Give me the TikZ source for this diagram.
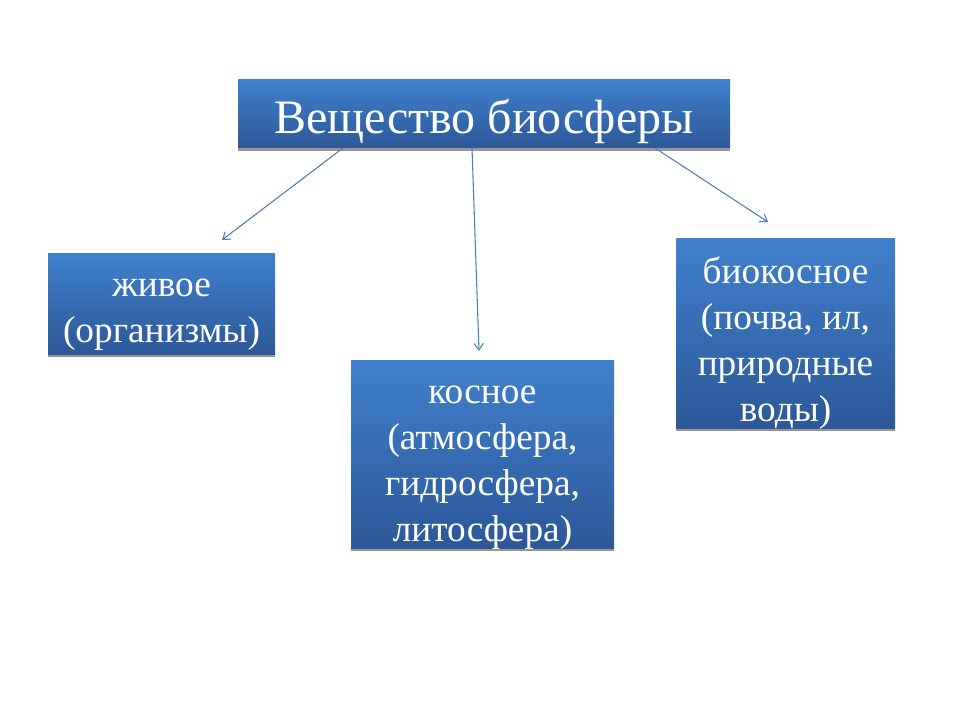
\documentclass[tikz,border=0pt]{standalone}
\usepackage{fontspec}
\setmainfont{Liberation Serif}
\usetikzlibrary{shadows,arrows.meta}
\definecolor{boxtop}{RGB}{64,128,204}
\definecolor{boxbot}{RGB}{44,88,152}
\definecolor{arrowblue}{RGB}{74,126,187}
\definecolor{shadowgray}{RGB}{150,150,150}
\begin{document}
\begin{tikzpicture}[x=0.75pt,y=-0.75pt,
  sphere/.style={rectangle, inner sep=0pt, top color=boxtop, bottom color=boxbot,
    drop shadow={shadow xshift=0pt, shadow yshift=-2.2pt, fill=shadowgray, opacity=1}},
  boxtext/.style={anchor=north, inner sep=0pt, text=white, align=center,
    font=\fontsize{28}{34.5}\selectfont},
  link/.style={draw=arrowblue, line width=0.8pt, -{Straight Barb[length=5pt,width=7pt]}}]
 	\useasboundingbox (0,0) rectangle (960,720);
 	\node [sphere, minimum width=369pt, minimum height=51pt] (matter) at (484,114) {};
 	\node [sphere, minimum width=170.25pt, minimum height=75pt] (living) at (161.5,304) {};
 	\node [sphere, minimum width=197.25pt, minimum height=141pt] (inert) at (482.5,454) {};
 	\node [sphere, minimum width=164.25pt, minimum height=141.75pt] (bioinert) at (785.5,333.5) {};
 	\node [boxtext, font=\fontsize{36}{43}\selectfont] (matter-text) at (484,92.9) {\strut Вещество биосферы};
 	\node [boxtext] (living-text) at (161.5,263.8) {\strut живое\\(организмы)};
 	\node [boxtext] (inert-text) at (482.5,370.8) {\strut косное\\(атмосфера,\\гидросфера,\\литосфера)};
 	\node [boxtext] (bioinert-text) at (785.5,250.8) {\strut биокосное\\(почва, ил,\\природные\\воды)};
 	\coordinate (s1) at (343,148);
 	\coordinate (s2) at (472,148);
 	\coordinate (s3) at (655,148);
 	\coordinate (e1) at (222,240);
 	\coordinate (e2) at (479,351);
 	\coordinate (e3) at (768,222);
 	\draw [link] (s1) -- (e1);
 	\draw [link] (s2) -- (e2);
 	\draw [link] (s3) -- (e3);
\end{tikzpicture}
\end{document}
